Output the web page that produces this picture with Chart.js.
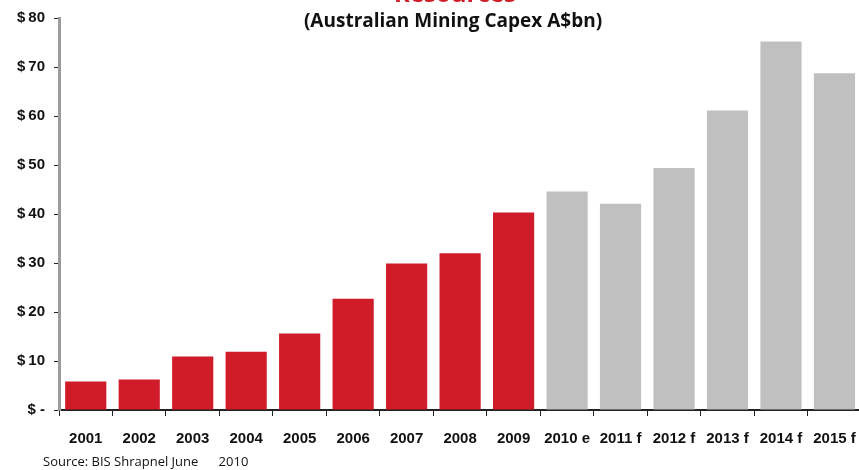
<!DOCTYPE html>
<html>
<head>
<meta charset="utf-8">
<script src="https://cdn.jsdelivr.net/npm/chart.js@4"></script>
<style>
  html, body { margin: 0; padding: 0; background: #fff; overflow: hidden; }
  #wrap { width: 870px; height: 470px; }
</style>
</head>
<body>
<div id="wrap"><canvas id="myChart"></canvas></div>
<script>
const COLORS = {
    red: '#d01b29',
    grey: '#c0c0c0',
    axisGrey: '#9c9c9c',
    text: '#111111'
};

const years = ['2001', '2002', '2003', '2004', '2005', '2006', '2007', '2008', '2009',
    '2010 e', '2011 f', '2012 f', '2013 f', '2014 f', '2015 f'];
const capex = [5.8, 6.2, 10.9, 11.9, 15.6, 22.7, 29.9, 32.0, 40.3,
    44.6, 42.1, 49.4, 61.1, 75.2, 68.7];
const isForecast = [false, false, false, false, false, false, false, false, false,
    true, true, true, true, true, true];
const yTicks = [0, 10, 20, 30, 40, 50, 60, 70, 80];

const titleText = 'Resources';
const subtitleText = '(Australian Mining Capex A$bn)';
const sourceText = 'Source: BIS Shrapnel June      2010';

// titles and source note drawn straight onto the canvas
const textPlugin = {
    id: 'textPlugin',
    afterDraw(chart) {
        const c = chart.ctx;
        c.save();
        c.textAlign = 'center';
        c.textBaseline = 'alphabetic';
        c.fillStyle = COLORS.red;
        c.font = "bold 24px 'Open Sans', sans-serif";
        c.fillText(titleText, 455, 2);
        c.fillStyle = COLORS.text;
        c.font = "bold 19px 'Open Sans', sans-serif";
        c.fillText(subtitleText, 453, 27);
        c.textAlign = 'left';
        c.font = "13px 'Open Sans', sans-serif";
        c.fillText(sourceText, 43, 466);
        c.restore();
    }
};

const ctx = document.getElementById('myChart').getContext('2d');

new Chart(ctx, {
    type: 'bar',
    data: {
        labels: years,
        datasets: [{
            label: 'Mining Capex',
            data: capex,
            backgroundColor: isForecast.map(f => f ? COLORS.grey : COLORS.red),
            borderWidth: 0,
            categoryPercentage: 0.77,
            barPercentage: 1
        }]
    },
    options: {
        responsive: true,
        maintainAspectRatio: false,
        animation: false,
        layout: {
            padding: { top: 14, right: 8, left: 0, bottom: 0 }
        },
        plugins: {
            legend: { display: false },
            tooltip: { enabled: false }
        },
        scales: {
            x: {
                grid: {
                    drawOnChartArea: false,
                    drawTicks: true,
                    tickLength: 6,
                    tickColor: '#222'
                },
                border: { color: '#222', width: 2 },
                ticks: {
                    padding: 14,
                    color: COLORS.text,
                    maxRotation: 0,
                    autoSkip: false,
                    font: { family: "Arial, 'Liberation Sans', sans-serif", size: 15, weight: 'bold' }
                },
                afterFit(scale) { scale.height = 60; }
            },
            y: {
                min: 0,
                max: 80,
                afterBuildTicks(scale) { scale.ticks = yTicks.map(v => ({ value: v })); },
                grid: {
                    drawOnChartArea: false,
                    drawTicks: true,
                    tickLength: 5,
                    tickColor: '#222'
                },
                border: { color: COLORS.axisGrey, width: 3 },
                ticks: {
                    padding: 9,
                    color: COLORS.text,
                    font: { family: "Arial, 'Liberation Sans', sans-serif", size: 15, weight: 'bold' },
                    callback: v => v === 0 ? '$ -' : '$\u2009' + v
                },
                afterFit(scale) { scale.width = 59; }
            }
        }
    },
    plugins: [textPlugin]
});
</script>
</body>
</html>
